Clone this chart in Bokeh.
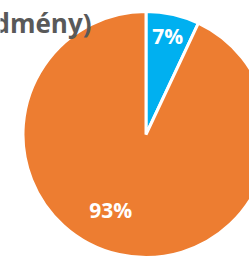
import math
from bokeh.plotting import figure
from bokeh.models import Range1d, ColumnDataSource
from bokeh.core.properties import value
from bokeh.embed import file_html
from bokeh.resources import INLINE

# ---- data ----
categories = ["A", "B"]
shares = [7, 93]
labels = ["7%", "93%"]
colors = ["#00B0F0", "#ED7D31"]
title_text = "dmény)"

# ---- layout constants ----
W, H = 249, 257
cx, cy, R = 145.5, 123.0, 123
label_rfrac = [0.81, 0.69]
label_ang_nudge = [0.0, 12.0]   # degrees, clockwise

total = float(sum(shares))
starts, ends, lx, ly = [], [], [], []
a = 90.0
for i, s in enumerate(shares):
    sweep = 360.0 * s / total
    starts.append(math.radians(a))
    ends.append(math.radians(a - sweep))
    mid = a - sweep / 2 - label_ang_nudge[i]
    lx.append(cx + R * label_rfrac[i] * math.cos(math.radians(mid)))
    ly.append(cy + R * label_rfrac[i] * math.sin(math.radians(mid)) + 1.5)
    a -= sweep

src = ColumnDataSource(dict(cat=categories, start=starts, end=ends, color=colors,
                            lx=lx, ly=ly, label=labels))

p = figure(width=W, height=H, x_range=Range1d(0, W), y_range=Range1d(0, H),
           output_backend="svg", toolbar_location=None, min_border=0)
p.axis.visible = False
p.grid.visible = False
p.outline_line_color = None
p.background_fill_color = "white"
p.border_fill_color = "white"

p.wedge(x=cx, y=cy, radius=R, start_angle="start", end_angle="end",
        direction="clock", fill_color="color", line_color="white",
        line_width=3, source=src)

p.text(x="lx", y="ly", text="label", source=src, text_color="white",
       text_font=value("Open Sans"), text_font_style="bold", text_font_size="21px",
       text_align="center", text_baseline="middle")

p.text(x=[91], y=[234.5], text=[title_text], text_color="#595959",
       text_font=value("Open Sans"), text_font_style="bold",
       text_font_size="26px", text_align="right", text_baseline="alphabetic")

open("out.html", "w").write(file_html(p, INLINE))
